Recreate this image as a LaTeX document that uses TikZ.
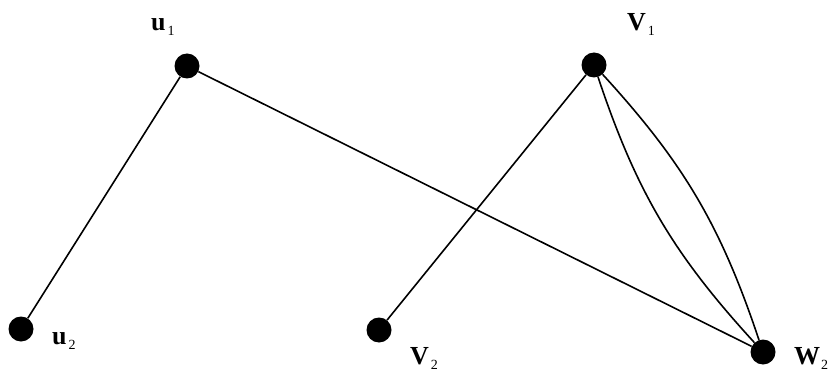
\documentclass[tikz,border=0pt]{standalone}
\usepackage{fontspec}
\setmainfont{Liberation Serif}
\usepackage{tikz}

\newcommand{\lsub}[1]{\hspace{2pt}\raisebox{-5pt}{\fontsize{14}{14}\selectfont\mdseries #1}}

\begin{document}
\begin{tikzpicture}[
  x=1pt, y=-1pt,
  vtx/.style={circle, fill=black, inner sep=0pt, minimum size=25pt},
  lbl/.style={anchor=base west, inner sep=0pt, font=\fontsize{26}{28}\selectfont\bfseries},
  edge/.style={line width=1.6pt}
]
  \useasboundingbox (0,0) rectangle (829,374);
  % vertices
  \node[vtx] (u1) at (187,66) {};
  \node[vtx] (v1) at (594,65) {};
  \node[vtx] (u2) at (21,329) {};
  \node[vtx] (v2) at (379,330) {};
  \node[vtx] (w2) at (763,352) {};
  % labels
  \node[lbl] (lu1) at (151,31) {u\lsub{1}};
  \node[lbl] (lv1) at (627,31) {V\lsub{1}};
  \node[lbl] (lu2) at (52,344) {u\lsub{2}};
  \node[lbl] (lv2) at (410,364) {V\lsub{2}};
  \node[lbl] (lw2) at (794,364) {W\hspace{-1pt}\lsub{2}};
  % edges
  \draw[edge] (u1) -- (u2);
  \draw[edge] (u1) -- (w2);
  \draw[edge] (v1) -- (v2);
  \draw[edge] (v1) to[bend right=12] (w2);
  \draw[edge] (v1) to[bend left=12] (w2);
\end{tikzpicture}
\end{document}
